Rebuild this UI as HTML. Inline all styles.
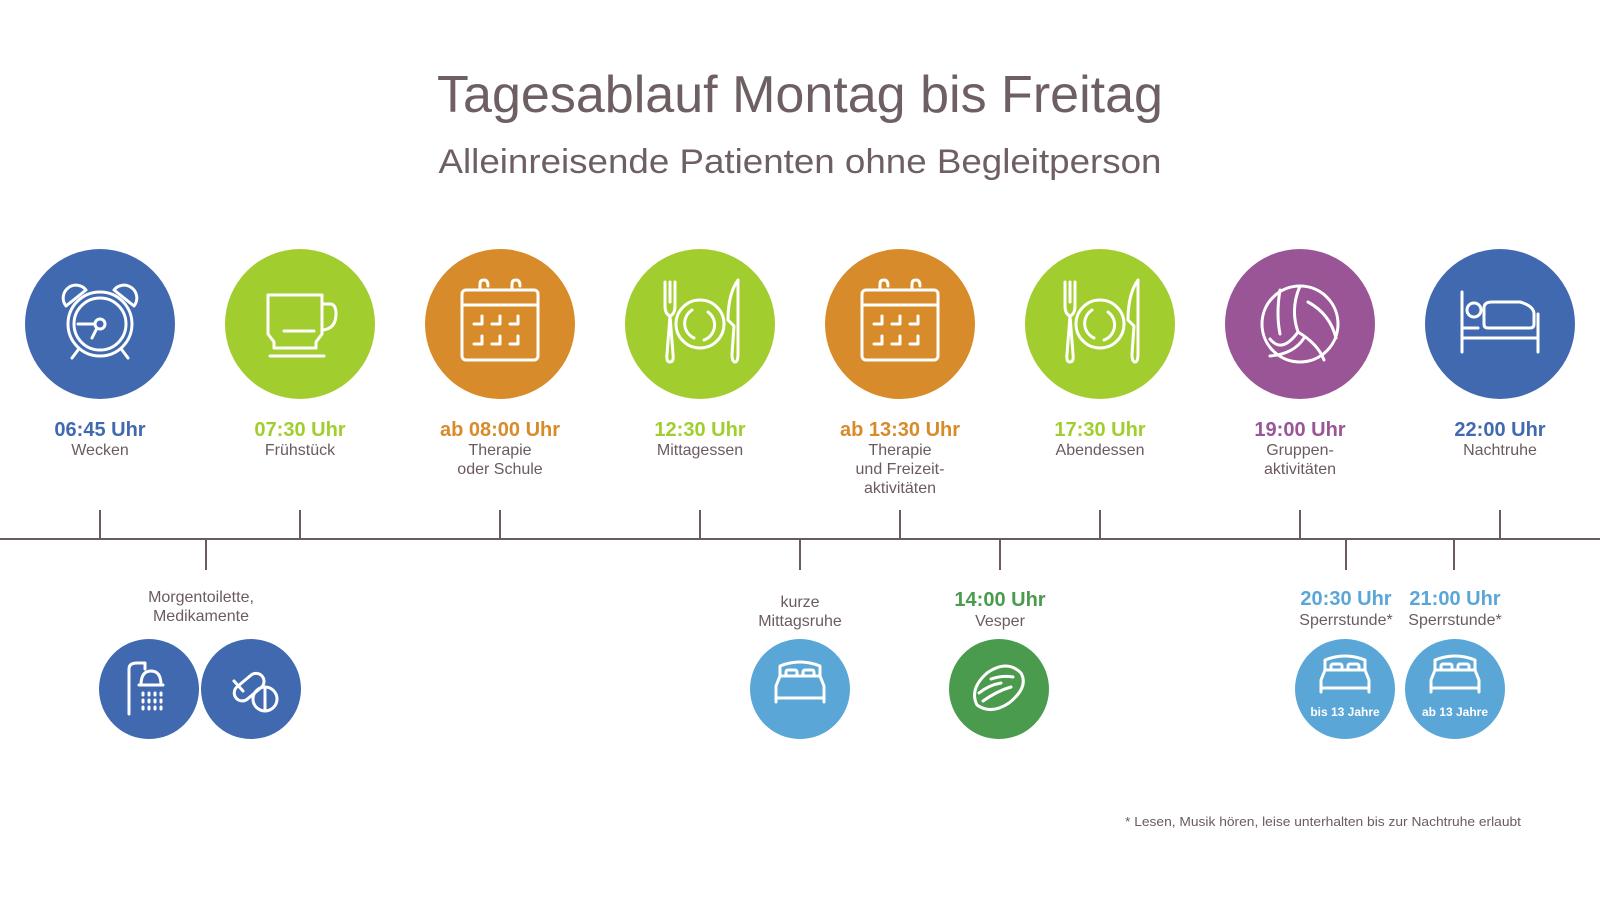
<!DOCTYPE html>
<html><head><meta charset="utf-8"><style>
html,body{margin:0;padding:0;background:#fff;}
svg{display:block;}
text{font-family:"Liberation Sans",sans-serif;}
.t{font-weight:bold;font-size:20px;text-anchor:middle;}
.d{font-size:16px;fill:#6b5b5e;text-anchor:middle;}
.w{fill:none;stroke:#fff;stroke-width:3;stroke-linecap:round;stroke-linejoin:round;}
</style></head><body>
<svg width="1600" height="900" viewBox="0 0 1600 900">
<text x="800" y="112" text-anchor="middle" font-size="52" fill="#6e5f62" textLength="726" lengthAdjust="spacingAndGlyphs">Tagesablauf Montag bis Freitag</text>
<text x="800" y="173" text-anchor="middle" font-size="34" fill="#6e5f62" textLength="723" lengthAdjust="spacingAndGlyphs">Alleinreisende Patienten ohne Begleitperson</text>

<g stroke="#6b5b5e" stroke-width="2">
<line x1="0" y1="539" x2="1600" y2="539"/>
<line x1="100" y1="510" x2="100" y2="539"/><line x1="300" y1="510" x2="300" y2="539"/>
<line x1="500" y1="510" x2="500" y2="539"/><line x1="700" y1="510" x2="700" y2="539"/>
<line x1="900" y1="510" x2="900" y2="539"/><line x1="1100" y1="510" x2="1100" y2="539"/>
<line x1="1300" y1="510" x2="1300" y2="539"/><line x1="1500" y1="510" x2="1500" y2="539"/>
<line x1="206" y1="539" x2="206" y2="570"/><line x1="800" y1="539" x2="800" y2="570"/>
<line x1="1000" y1="539" x2="1000" y2="570"/><line x1="1346" y1="539" x2="1346" y2="570"/>
<line x1="1454" y1="539" x2="1454" y2="570"/>
</g>

<circle cx="100" cy="324" r="75" fill="#4169b0"/>
<circle cx="300" cy="324" r="75" fill="#a2cd2e"/>
<circle cx="500" cy="324" r="75" fill="#d78b2a"/>
<circle cx="700" cy="324" r="75" fill="#a2cd2e"/>
<circle cx="900" cy="324" r="75" fill="#d78b2a"/>
<circle cx="1100" cy="324" r="75" fill="#a2cd2e"/>
<circle cx="1300" cy="324" r="75" fill="#9a5596"/>
<circle cx="1500" cy="324" r="75" fill="#4169b0"/>

<g class="w" transform="translate(100,324)">
<circle cx="0" cy="0" r="32"/><circle cx="0" cy="0" r="26"/>
<circle cx="0" cy="0" r="5"/><line x1="-5" y1="0" x2="-22" y2="0"/><line x1="-3" y1="4" x2="-8" y2="14"/>
<path d="M-34,-18 A12,12 0 0 1 -14,-34 Z"/><path d="M34,-18 A12,12 0 0 0 14,-34 Z"/>
<line x1="-22" y1="26" x2="-28" y2="34"/><line x1="22" y1="26" x2="28" y2="34"/>
</g>
<g class="w" transform="translate(300,324)">
<path d="M-32,-29 H22 V10 L16,18 V24 H-26 V18 L-32,10 Z"/>
<path d="M22,-20 H30 Q36,-20 36,-10 Q36,5 22,6"/>
<line x1="-16" y1="7" x2="14" y2="7"/><line x1="-30" y1="32" x2="24" y2="32"/>
</g>
<g class="w" transform="translate(500,324)">
<rect x="-38" y="-34" width="76" height="70" rx="4"/><line x1="-38" y1="-19" x2="38" y2="-19"/>
<path d="M-20,-34 V-40 Q-20,-44 -16,-44 Q-12,-44 -12,-38"/><path d="M12,-34 V-40 Q12,-44 16,-44 Q20,-44 20,-38"/>
<path d="M-26,0 H-18 V-8 M-8,0 H0 V-8 M10,0 H18 V-8 M-26,20 H-18 V12 M-8,20 H0 V12 M10,20 H18 V12"/>
</g>
<g class="w" transform="translate(900,324)">
<rect x="-38" y="-34" width="76" height="70" rx="4"/><line x1="-38" y1="-19" x2="38" y2="-19"/>
<path d="M-20,-34 V-40 Q-20,-44 -16,-44 Q-12,-44 -12,-38"/><path d="M12,-34 V-40 Q12,-44 16,-44 Q20,-44 20,-38"/>
<path d="M-26,0 H-18 V-8 M-8,0 H0 V-8 M10,0 H18 V-8 M-26,20 H-18 V12 M-8,20 H0 V12 M10,20 H18 V12"/>
</g>
<g class="w" transform="translate(700,324)">
<path d="M-35,-42 V-18 Q-35,-10 -30,-8 L-33,30 Q-34,38 -30,38 Q-26,38 -27,30 L-30,-8 Q-25,-10 -25,-18 V-42 M-30,-42 V-22"/>
<circle cx="0" cy="0" r="24"/><path d="M-8,-14 A16,16 0 0 0 -6,14 M8,-12 A16,16 0 0 1 4,16"/>
<path d="M38,-44 Q28,-30 28,-4 L34,2 L32,30 Q32,38 35,38 Q38,38 38,30 Z"/>
</g>
<g class="w" transform="translate(1100,324)">
<path d="M-35,-42 V-18 Q-35,-10 -30,-8 L-33,30 Q-34,38 -30,38 Q-26,38 -27,30 L-30,-8 Q-25,-10 -25,-18 V-42 M-30,-42 V-22"/>
<circle cx="0" cy="0" r="24"/><path d="M-8,-14 A16,16 0 0 0 -6,14 M8,-12 A16,16 0 0 1 4,16"/>
<path d="M38,-44 Q28,-30 28,-4 L34,2 L32,30 Q32,38 35,38 Q38,38 38,30 Z"/>
</g>
<g class="w" transform="translate(1300,324)">
<ellipse cx="0" cy="0" rx="38" ry="38"/>
<path d="M0,-38 Q-10,-15 -2,8 M-2,8 Q-18,30 -30,15 M-2,8 Q18,20 24,36 M-20,-34 Q-24,-10 -20,10 M8,-22 Q30,-10 36,14 M-30,32 Q-6,30 4,14"/>
</g>
<g class="w" transform="translate(1500,324)">
<line x1="-38" y1="-32" x2="-38" y2="28"/><line x1="38" y1="-10" x2="38" y2="28"/>
<line x1="-38" y1="14" x2="38" y2="14"/><line x1="-38" y1="4" x2="-22" y2="4"/>
<circle cx="-26" cy="-14" r="7"/>
<path d="M-16,-16 Q-16,-22 -8,-22 H20 Q34,-18 34,-10 V0 Q34,4 30,4 H-12 Q-16,4 -16,0 Z"/>
</g>

<text class="t" x="100" y="436" fill="#4169b0">06:45 Uhr</text><text class="d" x="100" y="455">Wecken</text>
<text class="t" x="300" y="436" fill="#a2cd2e">07:30 Uhr</text><text class="d" x="300" y="455">Frühstück</text>
<text class="t" x="500" y="436" fill="#d78b2a">ab 08:00 Uhr</text><text class="d" x="500" y="455">Therapie</text><text class="d" x="500" y="474">oder Schule</text>
<text class="t" x="700" y="436" fill="#a2cd2e">12:30 Uhr</text><text class="d" x="700" y="455">Mittagessen</text>
<text class="t" x="900" y="436" fill="#d78b2a">ab 13:30 Uhr</text><text class="d" x="900" y="455">Therapie</text><text class="d" x="900" y="474">und Freizeit-</text><text class="d" x="900" y="493">aktivitäten</text>
<text class="t" x="1100" y="436" fill="#a2cd2e">17:30 Uhr</text><text class="d" x="1100" y="455">Abendessen</text>
<text class="t" x="1300" y="436" fill="#9a5596">19:00 Uhr</text><text class="d" x="1300" y="455">Gruppen-</text><text class="d" x="1300" y="474">aktivitäten</text>
<text class="t" x="1500" y="436" fill="#4169b0">22:00 Uhr</text><text class="d" x="1500" y="455">Nachtruhe</text>

<text class="d" x="201" y="602">Morgentoilette,</text><text class="d" x="201" y="621">Medikamente</text>
<text class="d" x="800" y="607">kurze</text><text class="d" x="800" y="626">Mittagsruhe</text>
<text class="t" x="1000" y="606" fill="#4a9b4e">14:00 Uhr</text><text class="d" x="1000" y="626">Vesper</text>
<text class="t" x="1346" y="605" fill="#5aa6d6">20:30 Uhr</text><text class="d" x="1346" y="625">Sperrstunde*</text>
<text class="t" x="1455" y="605" fill="#5aa6d6">21:00 Uhr</text><text class="d" x="1455" y="625">Sperrstunde*</text>

<circle cx="149" cy="689" r="50" fill="#4169b0"/>
<circle cx="251" cy="689" r="50" fill="#4169b0"/>
<circle cx="800" cy="689" r="50" fill="#5aa6d6"/>
<circle cx="999" cy="689" r="50" fill="#4a9b4e"/>
<circle cx="1345" cy="689" r="50" fill="#5aa6d6"/>
<circle cx="1455" cy="689" r="50" fill="#5aa6d6"/>

<g class="w" stroke-width="2" transform="translate(149,689)">
<path d="M-20,25 V-20 Q-20,-26 -12,-26 H-4 V-20"/>
<path d="M-8,-4 Q-8,-18 2,-18 Q12,-18 12,-4 H14 H-10 Z"/>
<path d="M-6,4 v2 M0,4 v2 M6,4 v2 M12,4 v2 M-6,11 v2 M0,11 v2 M6,11 v2 M12,11 v2 M-6,18 v2 M0,18 v2 M6,18 v2 M12,18 v2"/>
</g>
<g class="w" stroke-width="2.5" transform="translate(251,689)">
<rect x="-24" y="-8" width="34" height="16" rx="8" transform="rotate(-40 -7 -8)"/>
<line x1="-17" y1="-8" x2="-8" y2="2"/>
<circle cx="14" cy="10" r="12"/><line x1="14" y1="-2" x2="14" y2="22"/>
</g>
<g class="w" stroke-width="2" transform="translate(800,682)">
<path d="M-20,-6 V-16 Q0,-24 20,-16 V-6"/><rect x="-14" y="-12" width="11" height="6" rx="2"/><rect x="3" y="-12" width="11" height="6" rx="2"/>
<path d="M-24,4 L-20,-6 H20 L24,4 V16 H-24 Z M-24,16 V20 M24,16 V20"/>
</g>
<g class="w" stroke-width="2" transform="translate(1345,676)">
<path d="M-20,-6 V-16 Q0,-24 20,-16 V-6"/><rect x="-14" y="-12" width="11" height="6" rx="2"/><rect x="3" y="-12" width="11" height="6" rx="2"/>
<path d="M-24,4 L-20,-6 H20 L24,4 V12 H-24 Z M-24,12 V16 M24,12 V16"/>
</g>
<g class="w" stroke-width="2" transform="translate(1455,676)">
<path d="M-20,-6 V-16 Q0,-24 20,-16 V-6"/><rect x="-14" y="-12" width="11" height="6" rx="2"/><rect x="3" y="-12" width="11" height="6" rx="2"/>
<path d="M-24,4 L-20,-6 H20 L24,4 V12 H-24 Z M-24,12 V16 M24,12 V16"/>
</g>
<text x="1345" y="716" text-anchor="middle" font-size="12" font-weight="bold" fill="#fff">bis 13 Jahre</text>
<text x="1455" y="716" text-anchor="middle" font-size="12" font-weight="bold" fill="#fff">ab 13 Jahre</text>
<g class="w" stroke-width="2" transform="translate(999,689)">
<path d="M-22,16 Q-30,0 -12,-16 Q8,-30 22,-16 Q30,-2 10,14 Q-8,26 -22,16 Z"/>
<path d="M-20,4 Q-10,-4 2,-6 M-16,12 Q-2,2 12,-2 M-8,-10 Q4,-14 14,-12"/>
</g>

<text x="1521" y="826" text-anchor="end" font-size="13" fill="#6b5b5e" textLength="396" lengthAdjust="spacingAndGlyphs">* Lesen, Musik hören, leise unterhalten bis zur Nachtruhe erlaubt</text>
</svg>
</body></html>
